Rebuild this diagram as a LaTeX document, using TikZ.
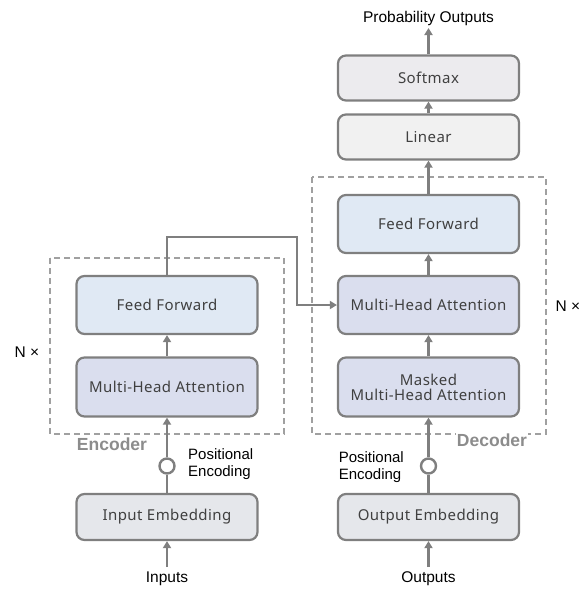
\documentclass[tikz,border=0pt]{standalone}
\usepackage{fontspec}
\setmainfont{Liberation Sans}
\newfontfamily\boxfont[LetterSpace=3]{Noto Sans}
\usetikzlibrary{arrows.meta}
\definecolor{edge}{HTML}{7F7F7F}
\definecolor{ffill}{HTML}{E0E9F4}
\definecolor{mfill}{HTML}{DADEEE}
\definecolor{efill}{HTML}{E5E7EB}
\definecolor{sfill}{HTML}{ECEBEE}
\definecolor{lfill}{HTML}{F1F1F1}
\definecolor{dgray}{HTML}{A0A0A0}
\definecolor{lblgray}{HTML}{8C8C8C}
\tikzset{
  blk/.style={draw=edge, line width=2.2pt, rounded corners=8pt, minimum width=181pt, minimum height=#1, align=center, font=\boxfont\fontsize{15}{18}\selectfont, text=black!75},
  blk/.default=58pt,
  conn/.style={draw=edge, line width=2.4pt, -{Triangle[length=7pt,width=8pt]}},
  plain/.style={draw=edge, line width=2.4pt},
  grp/.style={draw=dgray, line width=1.5pt, dash pattern=on 6pt off 4pt},
  lbl/.style={font=\fontsize{15.5}{17}\selectfont, text=black},
  pelbl/.style={font=\fontsize{15}{17}\selectfont, text=black, align=left, inner sep=0pt},
  grplbl/.style={font=\bfseries\fontsize{17.5}{19}\selectfont, text=lblgray, fill=white, inner sep=1pt},
  pe/.style={circle, draw=edge, line width=2.4pt, fill=white, minimum size=15pt, inner sep=0pt}
}
\begin{document}
\begin{tikzpicture}[x=1pt,y=-1pt]
\useasboundingbox (0,0) rectangle (584,590);
% groups
\draw[grp] (50,258) rectangle (284,434);
\draw[grp] (312,177) rectangle (546,434);
% group labels
\node[grplbl] (enc) at (112,444) {Encoder};
\node[grplbl] (dec) at (492,440) {Decoder};
% decoder column
\node[blk=45pt, fill=sfill] (soft) at (428.5,78) {Softmax};
\node[blk=45pt, fill=lfill] (lin) at (428.5,137) {Linear};
\node[blk, fill=ffill] (dff) at (428.5,224) {Feed Forward};
\node[blk, fill=mfill] (dmha) at (428.5,305) {Multi-Head Attention};
\node[blk=59pt, fill=mfill] (dmm) at (428.5,387) {Masked\\[-3pt]Multi-Head Attention};
\node[blk=46pt, fill=efill] (oemb) at (428.5,517) {Output Embedding};
% encoder column
\node[blk, fill=ffill] (eff) at (167,305) {Feed Forward};
\node[blk=59pt, fill=mfill] (emha) at (167,387) {Multi-Head Attention};
\node[blk=46pt, fill=efill] (iemb) at (167,517) {Input Embedding};
% positional encodings
\node[pe] (epe) at (167,466) {};
\node[pe] (dpe) at (428.5,466) {};
\node[pelbl, anchor=west] (epel) at (188,464) {Positional\\Encoding};
\node[pelbl, anchor=east] (dpel) at (404,467) {Positional\\Encoding};
% terminal labels
\node[lbl] (inp) at (167,579) {Inputs};
\node[lbl] (outp) at (428.5,579) {Outputs};
\node[lbl] (prob) at (428.5,18) {Probability Outputs};
\coordinate (inpt) at (167,567);
\coordinate (outpt) at (428.5,567);
\coordinate (probb) at (428.5,28);
% N x
\node[lbl] (nl) at (27,352) {N ×};
\node[lbl] (nr) at (568,306) {N ×};
% connectors
\draw[conn] (inpt) -- (iemb.south);
\draw[conn] (outpt) -- (oemb.south);
\draw[plain] (iemb.north) -- (epe.south);
\draw[plain] (oemb.north) -- (dpe.south);
\draw[conn] (epe.north) -- (emha.south);
\draw[conn] (dpe.north) -- (dmm.south);
\draw[conn] (emha.north) -- (eff.south);
\draw[conn] (dmm.north) -- (dmha.south);
\draw[conn] (dmha.north) -- (dff.south);
\draw[conn] (dff.north) -- (lin.south);
\draw[conn] (lin.north) -- (soft.south);
\draw[conn] (soft.north) -- (probb);
\draw[conn] (eff.north) -- ++(0,-38) -| (297,305) -- (dmha.west);
\end{tikzpicture}
\end{document}
